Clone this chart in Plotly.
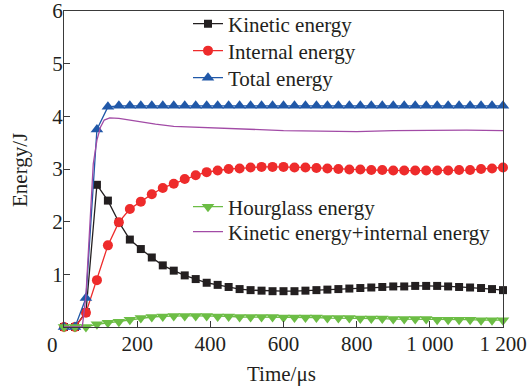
import plotly.graph_objects as go

time = [0, 30, 60, 90, 120, 150, 180, 210, 240, 270, 300, 330, 360, 390, 420, 450,
        480, 510, 540, 570, 600, 630, 660, 690, 720, 750, 780, 810, 840, 870, 900,
        930, 960, 990, 1020, 1050, 1080, 1110, 1140, 1170, 1200]

kinetic = [0, 0, 0.28, 2.70, 2.40, 1.99, 1.66, 1.48, 1.32, 1.17, 1.07, 0.98, 0.91,
           0.84, 0.80, 0.76, 0.72, 0.70, 0.69, 0.68, 0.68, 0.68, 0.69, 0.70, 0.71,
           0.72, 0.73, 0.74, 0.75, 0.76, 0.77, 0.77, 0.78, 0.78, 0.78, 0.77, 0.76,
           0.75, 0.74, 0.72, 0.70]

internal = [0, 0, 0.27, 0.89, 1.55, 1.99, 2.24, 2.38, 2.52, 2.64, 2.72, 2.81, 2.88,
            2.94, 2.97, 3.00, 3.01, 3.03, 3.04, 3.04, 3.04, 3.03, 3.03, 3.02, 3.01,
            3.00, 2.99, 2.99, 2.98, 2.98, 2.97, 2.97, 2.97, 2.97, 2.97, 2.97, 2.98,
            2.98, 3.00, 3.01, 3.03]

total = [0, 0, 0.55, 3.75, 4.18, 4.20, 4.20, 4.20, 4.20, 4.20, 4.20, 4.20, 4.20,
         4.20, 4.20, 4.20, 4.20, 4.20, 4.20, 4.20, 4.20, 4.20, 4.20, 4.20, 4.20,
         4.20, 4.20, 4.20, 4.20, 4.20, 4.20, 4.20, 4.20, 4.20, 4.20, 4.20, 4.20,
         4.20, 4.20, 4.20, 4.20]

hourglass = [0, 0, 0, 0.05, 0.08, 0.10, 0.14, 0.17, 0.19, 0.20, 0.21, 0.21, 0.21,
             0.21, 0.20, 0.20, 0.19, 0.19, 0.19, 0.19, 0.18, 0.18, 0.18, 0.18, 0.17,
             0.17, 0.17, 0.16, 0.16, 0.16, 0.15, 0.15, 0.15, 0.15, 0.14, 0.14, 0.14,
             0.14, 0.13, 0.13, 0.13]

time_sum = [0, 30, 50, 60, 70, 80, 90, 100, 110, 125, 150, 175, 200, 250, 300, 400,
            500, 600, 700, 800, 900, 1000, 1100, 1200]
kin_plus_int = [0, 0, 0, 0.6, 1.8, 3.1, 3.55, 3.80, 3.93, 3.97, 3.96, 3.93, 3.90,
                3.85, 3.81, 3.78, 3.75, 3.73, 3.72, 3.71, 3.73, 3.74, 3.74, 3.73]

x_tick_vals = [200, 400, 600, 800, 1000, 1200]
x_tick_text = ["200", "400", "600", "800", "1 000", "1 200"]
y_tick_vals = [1, 2, 3, 4, 5, 6]
y_tick_text = ["1", "2", "3", "4", "5", "6"]

FONT = "Liberation Serif"
FS = 21
AXC = "#3a3a3a"
TXT = "#231f20"

# plot area in pixels (for legend / text placement)
L, R, T, B = 64, 25, 11, 62
W, H = 528, 389
PH = H - T - B
PW = W - L - R

def py(p):
    return (H - B - p) / PH

def px(p):
    return (p - L) / PW

fig = go.Figure()
fig.add_trace(go.Scatter(x=time, y=kinetic, name="Kinetic energy", mode="lines+markers",
                         line=dict(color="#231f20", width=1.3),
                         marker=dict(symbol="square", size=8, color="#231f20"),
                         cliponaxis=False, legend="legend"))
fig.add_trace(go.Scatter(x=time, y=internal, name="Internal energy", mode="lines+markers",
                         line=dict(color="#ee2b2b", width=1.3),
                         marker=dict(symbol="circle", size=10, color="#ee2b2b"),
                         cliponaxis=False, legend="legend2"))
fig.add_trace(go.Scatter(x=time, y=total, name="Total energy", mode="lines+markers",
                         line=dict(color="#2058a8", width=1.3),
                         marker=dict(symbol="triangle-up", size=11, color="#2058a8"),
                         cliponaxis=False, legend="legend3"))
fig.add_trace(go.Scatter(x=time, y=hourglass, name="Hourglass energy", mode="lines+markers",
                         line=dict(color="#6cbd45", width=1.3),
                         marker=dict(symbol="triangle-down", size=11, color="#6cbd45"),
                         cliponaxis=False, legend="legend4"))
fig.add_trace(go.Scatter(x=time_sum, y=kin_plus_int, name="Kinetic energy+internal energy",
                         mode="lines", line=dict(color="#a24ba6", width=1.3),
                         cliponaxis=False, legend="legend5"))

def leg(cy):
    return dict(x=px(188), y=py(cy), xanchor="left", yanchor="middle",
                bgcolor="rgba(0,0,0,0)", borderwidth=0,
                font=dict(family=FONT, size=FS, color=TXT), itemwidth=30)

fig.update_layout(
    width=W, height=H,
    margin=dict(l=L, r=R, t=T, b=B, autoexpand=False),
    paper_bgcolor="white", plot_bgcolor="white",
    font=dict(family=FONT, size=FS, color=TXT),
    showlegend=True,
    legend=leg(24), legend2=leg(51), legend3=leg(78),
    legend4=leg(207), legend5=leg(232),
)
fig.update_xaxes(range=[0, 1200], tickvals=x_tick_vals, ticktext=x_tick_text,
                 ticks="inside", ticklen=6, tickcolor=AXC, showline=True, linecolor=AXC,
                 linewidth=1.2, mirror=True, showgrid=False, zeroline=False,
                 automargin=False, ticklabeloverflow="allow", ticklabelstandoff=-2)
fig.update_yaxes(range=[0, 6], tickvals=y_tick_vals, ticktext=y_tick_text,
                 ticks="inside", ticklen=6, tickcolor=AXC, showline=True, linecolor=AXC,
                 linewidth=1.2, mirror=True, showgrid=False, zeroline=False,
                 automargin=False, ticklabeloverflow="allow", ticklabelstandoff=-4)

# shared origin label and axis titles
fig.add_annotation(text="0", xref="paper", yref="paper", x=px(52), y=py(345),
                   xanchor="center", yanchor="middle", showarrow=False,
                   font=dict(family=FONT, size=FS, color=TXT))
fig.add_annotation(text="Time/μs", xref="paper", yref="paper", x=px(281), y=py(374),
                   xanchor="center", yanchor="middle", showarrow=False,
                   font=dict(family=FONT, size=FS, color=TXT))
fig.add_annotation(text="Energy/J", xref="paper", yref="paper", x=px(20), y=py(170),
                   xanchor="center", yanchor="middle", showarrow=False, textangle=-90,
                   font=dict(family=FONT, size=FS, color=TXT))

fig.write_html("out.html", config={"displayModeBar": False},
               post_script="document.body.style.margin='0';document.body.style.overflow='hidden';")
